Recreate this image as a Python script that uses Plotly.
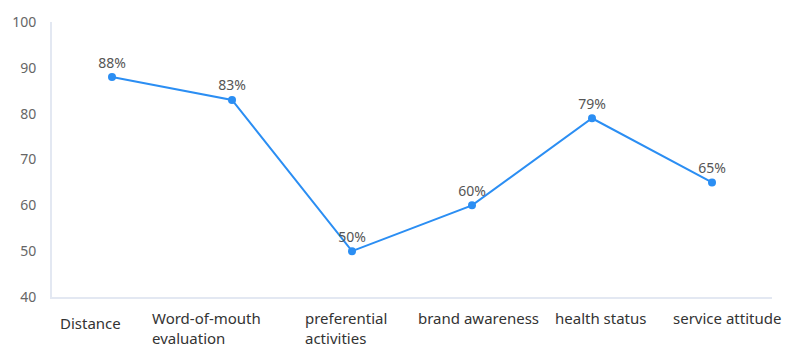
import plotly.graph_objects as go

# Survey factors and the share of respondents citing each one (%)
categories = ["Distance", "Word-of-mouth<br>evaluation", "preferential<br>activities",
              "brand awareness", "health status", "service attitude"]
values = [88, 83, 50, 60, 79, 65]
value_labels = [f"{v}%" for v in values]
y_ticks = [40, 50, 60, 70, 80, 90, 100]

# per-label nudges for the category captions under the axis (px)
caption_dx = [-53, -81, -48, -55, -38, -40]
caption_dy = [-15, -10, -10, -10, -10, -10]

FONT = "Noto Sans"
LINE_BLUE = "#2b8ef3"
AXIS_LINE = "#e3e8f2"

x_idx = list(range(len(categories)))

fig = go.Figure()
fig.add_trace(go.Scatter(
    x=x_idx, y=values,
    mode="lines+markers+text",
    line=dict(color=LINE_BLUE, width=2),
    marker=dict(color=LINE_BLUE, size=8),
    text=value_labels,
    textposition="top center",
    textfont=dict(family=FONT, size=14, color="#555555"),
    hoverinfo="skip",
    showlegend=False,
))

for i, label in enumerate(categories):
    fig.add_annotation(
        x=i, xref="x", y=0, yref="paper",
        text=label, showarrow=False,
        xanchor="left", yanchor="top", align="left",
        xshift=caption_dx[i], yshift=caption_dy[i],
        borderpad=0,
        font=dict(family=FONT, size=15, color="#333333"),
    )

fig.update_layout(
    width=788, height=351,
    margin=dict(l=45, r=16, t=18, b=54),
    paper_bgcolor="white", plot_bgcolor="white",
    font=dict(family=FONT),
)
fig.update_xaxes(
    range=[-0.5, len(categories) - 0.5],
    showticklabels=False, showgrid=False, zeroline=False,
    showline=True, linecolor=AXIS_LINE, linewidth=2,
    ticks="",
)
fig.update_yaxes(
    range=[40, 100], tickvals=y_ticks,
    showgrid=False, zeroline=False,
    showline=True, linecolor=AXIS_LINE, linewidth=2,
    ticks="", ticklabelstandoff=11,
    tickfont=dict(family=FONT, size=14, color="#666666"),
)

fig.write_html("out.html")
